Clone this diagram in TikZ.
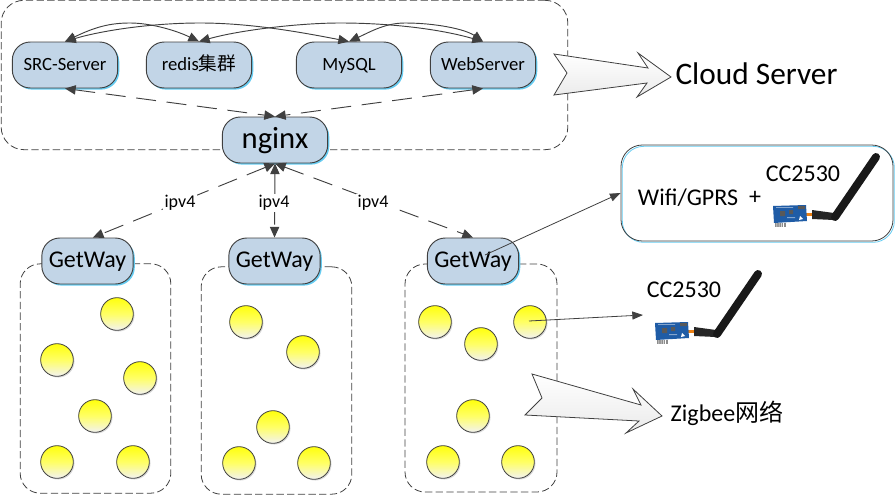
\documentclass[tikz,border=0pt]{standalone}
\usepackage{fontspec}
\setmainfont{Carlito}
\newfontfamily\cjkfont{Noto Sans CJK SC}
\usetikzlibrary{arrows.meta,shadows,shadings}
\definecolor{linec}{HTML}{404040}
\definecolor{boxfill}{HTML}{C2D5E7}
\definecolor{shadowc}{HTML}{66CCF2}
\definecolor{boardc}{HTML}{1F5CA6}
\tikzset{
  server/.style={draw=linec,line width=.7pt,fill=boxfill,rounded corners=13.5pt,minimum width=79pt,minimum height=34.5pt,inner sep=0pt,text=black,text height=9.5pt,text depth=1.7pt,font=\fontsize{14}{16}\selectfont,
    general shadow={shadow xshift=1.2pt,shadow yshift=-1.2pt,fill=shadowc}},
  bigserver/.style={server,text height=15.6pt,text depth=2.8pt,font=\fontsize{23}{26}\selectfont},
  gateway/.style={server,minimum width=68.5pt,text height=12.2pt,text depth=2.2pt,font=\fontsize{18}{20}\selectfont},
  zone/.style={draw=linec,line width=.6pt,dash pattern=on 5.5pt off 2.5pt,rounded corners=15pt,inner sep=0pt},
  leaf/.style={circle,draw=linec,line width=.6pt,minimum size=24.5pt,inner sep=0pt,top color=yellow!95!white,bottom color=black!5,middle color=yellow!60!white,
    general shadow={shadow xshift=.9pt,shadow yshift=-.9pt,fill=black!15}},
  link/.style={draw=linec,line width=.7pt,{Triangle[length=8pt,width=7pt]}-{Triangle[length=8pt,width=7pt]}},
  dlink/.style={link,dash pattern=on 15pt off 8pt},
  pointer/.style={draw=linec,line width=.6pt,-{Triangle[length=8pt,width=6pt]}},
  netlabel/.style={fill=white,inner sep=1pt,font=\fontsize{13.5}{15}\selectfont},
  caption/.style={inner sep=0pt,font=\fontsize{18}{20}\selectfont},
  bigarrow/.style={draw=linec,line width=.6pt,top color=white,bottom color=black!8},
  module/.pic={
    \fill[black!45] (2,17) rectangle (13,21);
    \fill[white] (3.6,17) rectangle (4.2,21) (5.8,17) rectangle (6.4,21) (8,17) rectangle (8.6,21) (10.2,17) rectangle (10.8,21);
    \fill[black!85] (39,4) -- (61,7) -- (61,14) -- (39,13) -- cycle;
    \fill[orange!70!brown] (33,6.5) rectangle (39,10);
    \fill[boardc] (0,0) -- (33,-1) -- (34,15) -- (1,17) -- cycle;
    \fill[black!65] (7,5) rectangle (12,10) (16,4) rectangle (20,8) (25,0) rectangle (32,3);
    \fill[white] (27,10) -- (30,13) -- (26,14) -- cycle;
    \fill[boardc!55!white] (3,1) rectangle (20,1.8) (14,11) rectangle (22,12);
    \draw[black!90,line width=6pt,line cap=round] (62,11) -- (103,-49);
  }
}
\begin{document}
\begin{tikzpicture}[x=.75pt,y=-.75pt]
\useasboundingbox (0,0) rectangle (895,496);
% zones
\node[zone,minimum width=425pt,minimum height=112pt,rounded corners=17pt] (cloudzone) at (284.5,75) {};
\node[zone,minimum width=113pt,minimum height=172pt] (zone1) at (95.5,378.5) {};
\node[zone,minimum width=113pt,minimum height=170.5pt] (zone2) at (276.5,380.5) {};
\node[zone,minimum width=114pt,minimum height=171pt] (zone3) at (481,378) {};
% servers
\node[server] (src) at (65,65) {SRC-Server};
\node[server] (redis) at (199,65) {redis{\cjkfont 集群}};
\node[server] (mysql) at (349,65) {MySQL};
\node[server] (web) at (483,65) {WebServer};
\node[bigserver] (nginx) at (275,140) {nginx};
% gateways
\node[gateway] (gw1) at (87.5,261) {GetWay};
\node[gateway] (gw2) at (274.5,261) {GetWay};
\node[gateway] (gw3) at (473,261) {GetWay};
% leaves
\node[leaf] (a1) at (117,314) {};
\node[leaf] (a2) at (57,360) {};
\node[leaf] (a3) at (140,378) {};
\node[leaf] (a4) at (95,416) {};
\node[leaf] (a5) at (57,462) {};
\node[leaf] (a6) at (133,462) {};
\node[leaf] (b1) at (246,322) {};
\node[leaf] (b2) at (303,352) {};
\node[leaf] (b3) at (273,427) {};
\node[leaf] (b4) at (239,463) {};
\node[leaf] (b5) at (314,463) {};
\node[leaf] (c1) at (435,322) {};
\node[leaf] (c2) at (530,322) {};
\node[leaf] (c3) at (481,344) {};
\node[leaf] (c4) at (473,416) {};
\node[leaf] (c5) at (443,462) {};
\node[leaf] (c6) at (518,462) {};
% curved links
\draw[link] (src.north) .. controls (95,27) and (110,23) .. (130,23) .. controls (150,23) and (175,30) .. (redis.north);
\draw[link] (src.north) .. controls (100,31) and (150,23) .. (200,23) .. controls (250,23) and (300,32) .. (mysql.north);
\draw[link] (redis.north) .. controls (240,30) and (300,23) .. (340,23) .. controls (390,23) and (440,29) .. (web.north);
\draw[link] (mysql.north) .. controls (370,32) and (385,23) .. (405,23) .. controls (435,23) and (465,29) .. (web.north);
% dashed links
\draw[dlink] (src.south) -- (nginx.north);
\draw[dlink] (web.south) -- (nginx.north);
\draw[dlink] (nginx.south) -- ([xshift=4pt]gw1.north);
\draw[dlink] (nginx.south) -- (gw2.north);
\draw[dlink] (nginx.south) -- (gw3.north);
\node[netlabel] (l1) at (180,203) {ipv4};
\node[netlabel] (l2) at (274,203) {ipv4};
\node[netlabel] (l3) at (373,203) {ipv4};
% big arrows
\path[bigarrow] (554,54) -- (648,68) -- (638,53) -- (671,77) -- (637,97) -- (647,83) -- (554,95) -- (567,73) -- cycle;
\path[bigarrow] (532,374) -- (641,405) -- (633,389) -- (662,416) -- (626,433) -- (639,421) -- (525,415) -- (542,398) -- cycle;
\node[inner sep=0pt,font=\fontsize{23.5}{26}\selectfont] (cloudtext) at (756.5,74) {Cloud Server};
\node[caption] (zigbee) at (727,413) {Zigbee{\cjkfont 网络}};
% wifi box
\node[draw=linec,line width=.6pt,rounded corners=16pt,minimum width=204pt,minimum height=72pt,inner sep=0pt,
  general shadow={shadow xshift=1pt,shadow yshift=-1pt,draw=shadowc,fill=white}] (wifi) at (757,193) {};
\node[caption] (wifitext) at (688,198) {Wifi/GPRS};
\node[caption] (plus) at (755,198) {+};
\node[caption] (cc1) at (803,174) {CC2530};
\pic at (773,206) {module};
\node[caption] (cc2) at (684,290) {CC2530};
\pic at (655,323) {module};
% pointers
\coordinate (gwstart) at (485,255);
\coordinate (leafstart) at (529,321);
\coordinate (ccend) at (643,315);
\draw[pointer] (gwstart) -- (wifi.west);
\draw[pointer] (leafstart) -- (ccend);
\end{tikzpicture}
\end{document}
